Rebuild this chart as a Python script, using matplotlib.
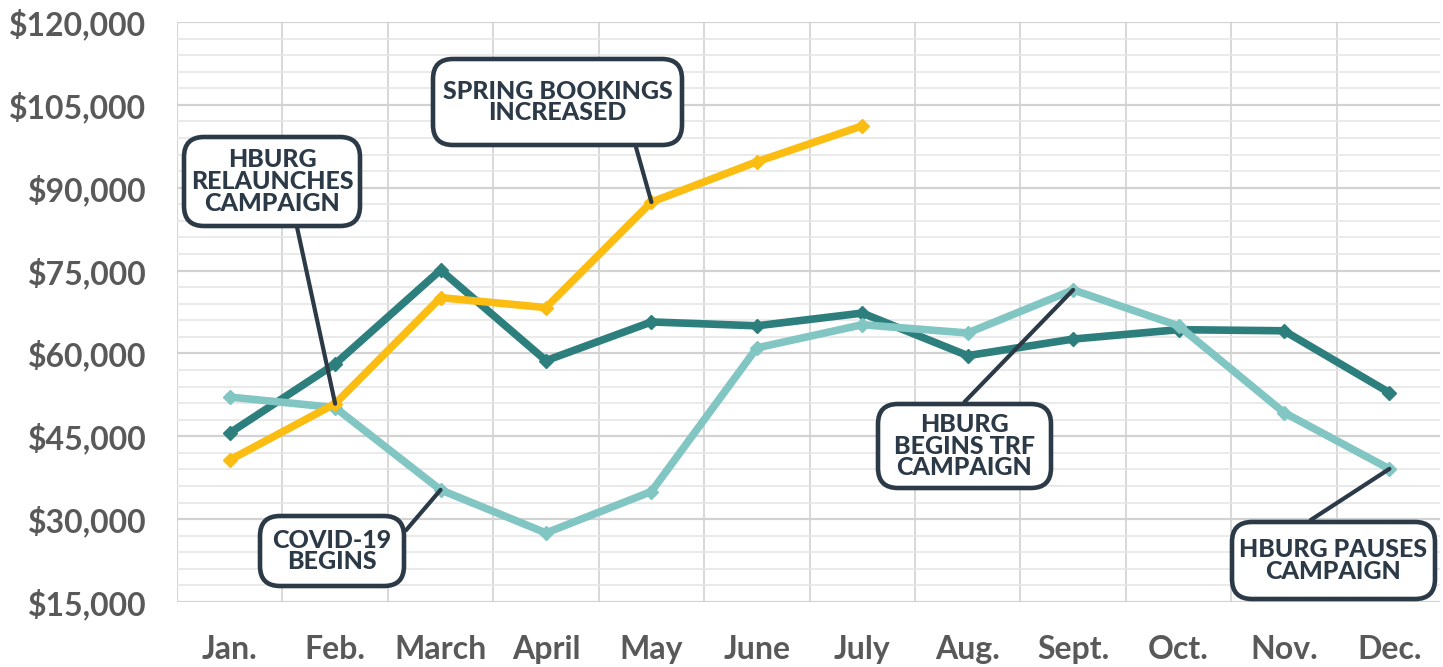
import numpy as np
import matplotlib
matplotlib.use("Agg")
import matplotlib.pyplot as plt
from matplotlib.patches import FancyBboxPatch
from matplotlib.transforms import IdentityTransform
from matplotlib.ticker import MultipleLocator, FuncFormatter

W, H = 1443, 667

months = ["Jan.", "Feb.", "March", "April", "May", "June", "July",
          "Aug.", "Sept.", "Oct.", "Nov.", "Dec."]

# monthly bookings, three series
dark_teal = [45600, 58100, 75100, 58700, 65700, 65000, 67300,
             59600, 62600, 64300, 64100, 52900]
light_teal = [52100, 50200, 35300, 27500, 35000, 61000, 65200,
              63700, 71500, 65000, 49300, 39100]
yellow = [40700, 50900, 70100, 68300, 87400, 94700, 101200]

# callouts: text, series + month they point at,
# box (left, top, width, height) in pixels, where the leader leaves the box
notes = [
    ("HBURG\nRELAUNCHES\nCAMPAIGN", yellow, 1, (182, 135, 180, 93), (0.64, 0.0)),
    ("SPRING BOOKINGS\nINCREASED", yellow, 4, (431, 57, 253, 90), (0.81, 0.0)),
    ("COVID-19\nBEGINS", light_teal, 2, (258, 514, 148, 74), (1.0, 0.78)),
    ("HBURG\nBEGINS TRF\nCAMPAIGN", light_teal, 8, (876, 402, 177, 88), (0.5, 1.0)),
    ("HBURG PAUSES\nCAMPAIGN", light_teal, 11, (1230, 520, 207, 81), (0.39, 1.0)),
]

navy = "#2c3a47"
grey = "#595959"

fig = plt.figure(figsize=(W / 100, H / 100), dpi=100)
ax = fig.add_axes([177 / W, 1 - 602 / H, 1263 / W, 580 / H])

x = np.arange(len(months))
ax.plot(x, dark_teal, color="#2d7f7e", lw=5.5, marker="D", ms=7.5, zorder=3)
ax.plot(x, light_teal, color="#82c6c4", lw=5.5, marker="D", ms=7.5, zorder=4)
ax.plot(x[:len(yellow)], yellow, color="#fbbd12", lw=5.5, marker="D", ms=7.5,
        zorder=5)

ax.set_xlim(-0.5, 11.48)
ax.set_ylim(15000, 120000)

ax.set_xticks(x)
ax.set_xticklabels(months)
ax.xaxis.set_minor_locator(MultipleLocator(1, offset=0.5))
ax.yaxis.set_major_locator(MultipleLocator(15000))
ax.yaxis.set_minor_locator(MultipleLocator(3000))
ax.yaxis.set_major_formatter(FuncFormatter(lambda v, p: "${:,.0f}".format(v)))

ax.grid(which="major", axis="y", color="#d2d2d2", lw=1.6)
ax.grid(which="minor", axis="y", color="#e6e6e6", lw=1.2)
ax.grid(which="minor", axis="x", color="#d8d8d8", lw=1.4)
ax.set_axisbelow(True)
for s in ax.spines.values():
    s.set_visible(False)
ax.axvline(-0.5, color="#d2d2d2", lw=1.6, zorder=0)

ax.tick_params(which="both", length=0)
ax.tick_params(axis="y", pad=22)
ax.tick_params(axis="x", pad=24)
for lab in ax.get_xticklabels() + ax.get_yticklabels():
    lab.set_fontfamily("Lato")
    lab.set_fontweight("bold")
    lab.set_fontsize(23)
    lab.set_color(grey)

for text, series, idx, (bx, by, bw, bh), (rx, ry) in notes:
    # pixel box -> display coords (origin bottom-left)
    x0, y0 = bx, H - by - bh
    ax.annotate("", xy=(idx, series[idx]),
                xytext=(x0 + rx * bw, y0 + ry * bh), textcoords="figure pixels",
                arrowprops=dict(arrowstyle="-", color=navy, lw=3,
                                shrinkA=0, shrinkB=0), zorder=6)
    box = FancyBboxPatch((x0 + 2, y0 + 2), bw - 4, bh - 4,
                         boxstyle="round,pad=0,rounding_size=20",
                         fc="white", ec=navy, lw=3.3,
                         transform=IdentityTransform(), zorder=7, clip_on=False)
    ax.add_patch(box)
    fig.text((x0 + bw / 2) / W, (y0 + bh / 2) / H, text, ha="center",
             va="center", fontsize=18, fontweight="black", family="Lato",
             color=navy, linespacing=0.93, zorder=8)

fig.savefig("out.png", dpi=100)
